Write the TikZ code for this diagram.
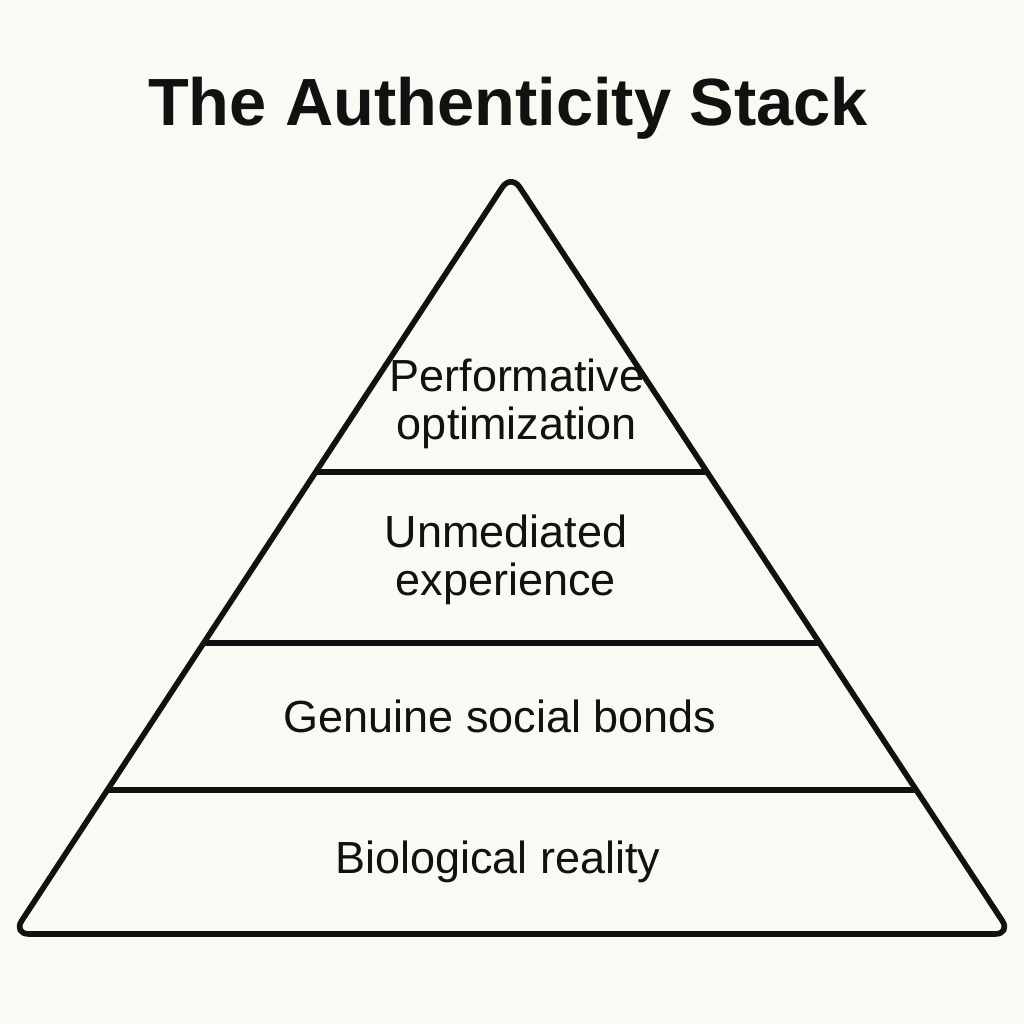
\documentclass[tikz,border=0pt]{standalone}
\usepackage{fontspec}
\setmainfont{Liberation Sans}
\usetikzlibrary{calc}
\definecolor{paper}{HTML}{FBF9F3}
\definecolor{ink}{HTML}{111111}

\begin{document}
\begin{tikzpicture}[line width=1.6pt, ink, line join=round,
    layer/.style={font=\fontsize{12.8}{13.8}\selectfont, align=center}]
  \fill[paper] (0, 0) rectangle (10.24, 10.24);
  \useasboundingbox (0, 0) rectangle (10.24, 10.24);

  % Title
  \node[font=\fontsize{19}{23}\selectfont\bfseries] (title) at (5.08, 9.16) {The Authenticity Stack};

  % Pyramid outline
  \coordinate (apex) at (5.11, 8.50);
  \coordinate (bl) at (0.13, 0.90);
  \coordinate (br) at (10.11, 0.90);
  \draw[rounded corners=0.16cm] (apex) -- (br) -- (bl) -- cycle;

  % Layer borders
  \foreach \t in {0.392, 0.617, 0.8105}
    \draw ($(apex)!\t!(bl)$) -- ($(apex)!\t!(br)$);

  % Layers, top to bottom
  \node[layer] (perf) at (5.17, 6.20) {Performative\\optimization};
  \node[layer] (unmed) at (5.06, 4.64) {Unmediated\\experience};
  \node[layer] (social) at (5.00, 3.08) {Genuine social bonds};
  \node[layer] (bio) at (4.98, 1.62) {Biological reality};
\end{tikzpicture}
\end{document}
